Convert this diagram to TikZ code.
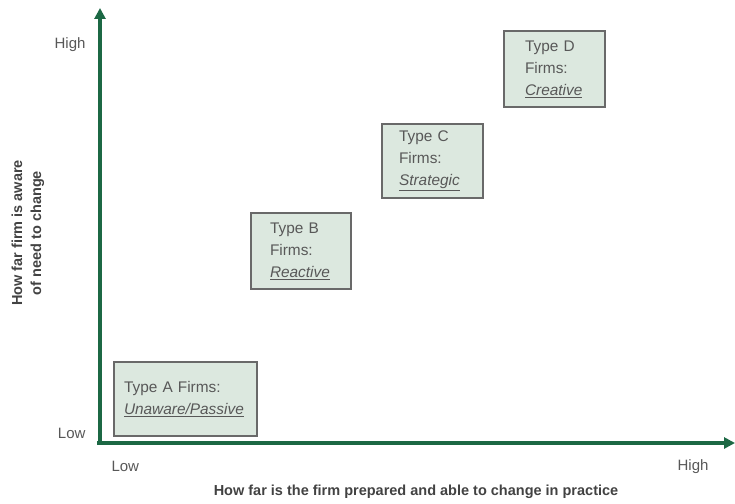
\documentclass[tikz,border=0pt]{standalone}
\usepackage{fontspec}
\setmainfont{Liberation Sans}
\usetikzlibrary{arrows.meta}
\definecolor{axisgreen}{RGB}{28,104,68}
\definecolor{boxfill}{RGB}{220,232,223}
\definecolor{boxline}{RGB}{105,105,105}
\definecolor{txt}{RGB}{88,88,88}
\tikzset{
  firmbox/.style={draw=boxline, line width=1.3pt, fill=boxfill, text=txt, align=left,
    font=\fontsize{15.4}{22}\selectfont, inner ysep=0pt},
  axislbl/.style={text=txt, font=\fontsize{15}{17}\selectfont},
  axistitle/.style={text=txt!75!black, font=\bfseries\fontsize{14.5}{19}\selectfont, align=center},
  axisline/.style={draw=axisgreen, line width=3.5pt, -{Triangle[length=11pt,width=11pt]}}
}
\begin{document}
\begin{tikzpicture}[x=1pt,y=-1pt]
\useasboundingbox (0,0) rectangle (735,503);
\coordinate (o) at (100,443);
\coordinate (ytop) at (100,8);
\coordinate (xend) at (735,443);
\draw[axisline] ([yshift=-1.75pt]o) -- (ytop);
\draw[axisline] ([xshift=-3pt]o) -- (xend);
% boxes
\node[firmbox, inner xsep=10pt, text width=123pt, minimum height=74pt] (a) at (185.5,399) {Type A Firms:\\\underline{\textit{Unaware/Passive}}};
\node[firmbox, inner xsep=19pt, text width=62pt, minimum height=76pt] (b) at (301,251) {Type B\\Firms:\\\underline{\textit{Reactive}}};
\node[firmbox, inner xsep=17pt, text width=67pt, minimum height=74pt] (c) at (432.5,161) {Type C\\Firms:\\\underline{\textit{Strategic}}};
\node[firmbox, inner xsep=21pt, text width=59pt, minimum height=76pt] (d) at (554.5,69) {Type D\\Firms:\\\underline{\textit{Creative}}};
% axis labels
\node[axislbl, anchor=east] (yhigh) at (89,45) {High};
\node[axislbl, anchor=east] (ylow) at (89,433) {Low};
\node[axislbl, anchor=west] (xlow) at (108,466) {Low};
\node[axislbl, anchor=east] (xhigh) at (712,467) {High};
\node[axistitle, rotate=90] (ytitle) at (28,233) {How far firm is aware\\of need to change};
\node[axistitle] (xtitle) at (416,492) {How far is the firm prepared and able to change in practice};
\end{tikzpicture}
\end{document}
